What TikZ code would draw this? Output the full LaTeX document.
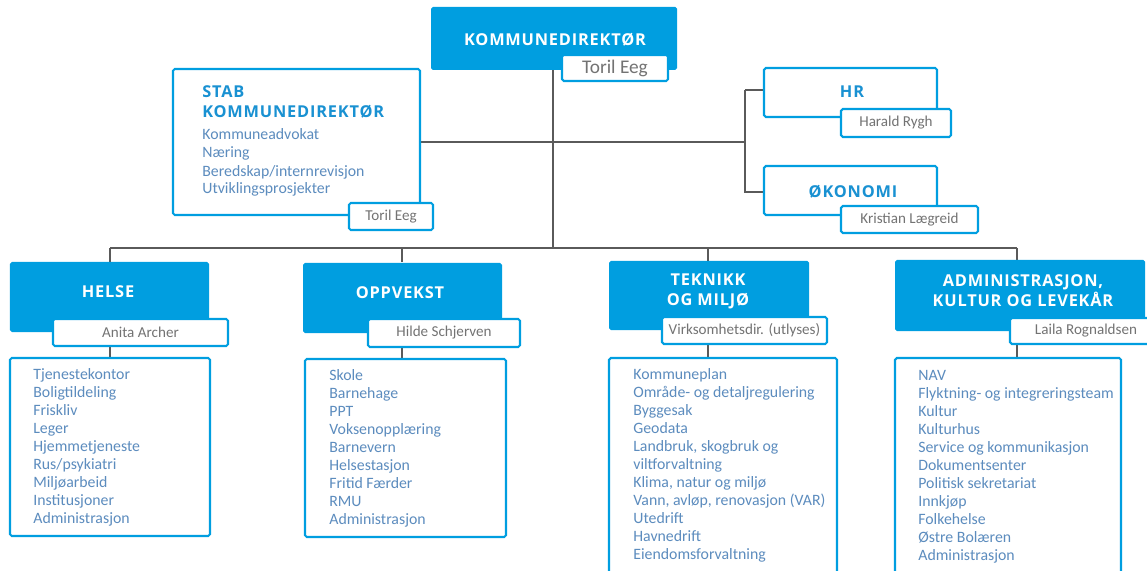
\documentclass[tikz,border=0pt]{standalone}
\usepackage{fontspec}
\usetikzlibrary{calc}
\setmainfont{Carlito}
\newfontfamily\headfont{Open Sans}[LetterSpace=5]
\definecolor{kblue}{RGB}{0,158,224}
\definecolor{kline}{RGB}{90,90,90}
\definecolor{ktext}{RGB}{92,140,190}
\definecolor{kgray}{RGB}{115,115,115}
\definecolor{ktitle}{RGB}{25,145,210}
\newcommand\bx[7]{%
  \pgfmathsetmacro\bxcx{(#3+#5)/2}\pgfmathsetmacro\bxcy{(#4+#6)/2}%
  \pgfmathsetmacro\bxww{(#5-#3)*0.02}\pgfmathsetmacro\bxhh{(#6-#4)*0.02}%
  \node[#1,minimum width=\bxww cm,minimum height=\bxhh cm] (#2) at (\bxcx,\bxcy) {#7};}
\newcommand\itemlist[4]{%
  \foreach \t [count=\i] in {#4} {\node[itemtxt] (#1-\i) at (#2,{#3+18*(\i-1)}) {\t};}}
\begin{document}
\begin{tikzpicture}[x=0.02cm,y=-0.02cm,
  bluebox/.style={fill=kblue,draw=none,inner sep=0,outer sep=0,rounded corners=1pt},
  outbox/.style={draw=kblue,line width=1.2pt,fill=white,inner sep=0,outer sep=0,rounded corners=1pt},
  namebox/.style={draw=kblue,line width=1.2pt,fill=white,inner sep=0,outer sep=0,rounded corners=1pt,text=kgray,font=\fontsize{8.6}{10}\selectfont},
  whitetitle/.style={text=white,font=\headfont\bfseries\fontsize{9.3}{11.5}\selectfont,align=center,inner sep=0},
  bluetitle/.style={text=ktitle,font=\headfont\bfseries\fontsize{9.3}{11.5}\selectfont,inner sep=0},
  itemtxt/.style={text=ktext,font=\fontsize{9}{10}\selectfont,anchor=base west,inner sep=0},
  conn/.style={draw=kline,line width=0.8pt}]
\useasboundingbox (0,0) rectangle (1147,571);
\clip (0,0) rectangle (1147,571);
% coordinates for connectors
\coordinate (d1) at (110,248);
\coordinate (d2) at (402,248);
\coordinate (d3) at (708,248);
\coordinate (d4) at (1017,248);
\coordinate (hrj) at (745,142);
\coordinate (kdx) at (553,70);
% connectors (drawn first, boxes on top)
\draw[conn] (kdx) -- (kdx |- d1);
\draw[conn] (d1) -- (d4);
\draw[conn] (420,142) coordinate (stabe) -- (hrj);
\draw[conn] (745,90) coordinate (hrw) -- (765,90) coordinate (hre);
\draw[conn] (hrw) -- (745,192) coordinate (okw) -- (765,192) coordinate (oke);
\foreach \d in {d1,d2,d3,d4} {\draw[conn] (\d) -- ($(\d)+(0,14)$);}
\draw[conn] (110,346) coordinate (l1a) -- (110,358) coordinate (l1b);
\draw[conn] (402,347) coordinate (l2a) -- (402,359) coordinate (l2b);
\draw[conn] (708,344) coordinate (l3a) -- (708,358) coordinate (l3b);
\draw[conn] (1017,344) coordinate (l4a) -- (1017,358) coordinate (l4b);
% KOMMUNEDIREKTOR
\bx{bluebox}{kd}{431}{7}{677}{70}{}
\node[whitetitle] (kdt) at (555,40) {KOMMUNEDIREKTØR};
\bx{namebox,font=\fontsize{11}{13}\selectfont}{kdn}{562}{55}{668}{81}{Toril Eeg}
% STAB
\bx{outbox}{stab}{173}{69}{420}{215}{}
\node[bluetitle,anchor=base west] (stabt1) at (202,98) {STAB};
\node[bluetitle,anchor=base west] (stabt2) at (202,118) {KOMMUNEDIREKTØR};
\itemlist{stabi}{202}{140}{Kommuneadvokat,Næring,Beredskap/internrevisjon,Utviklingsprosjekter}
\bx{namebox}{stabn}{349}{203}{433}{230}{Toril Eeg}
% HR
\bx{outbox}{hr}{764}{68}{937}{117}{}
\node[bluetitle] (hrt) at (852,92) {HR};
\bx{namebox}{hrn}{841}{109}{951}{137}{Harald Rygh}
% OKONOMI
\bx{outbox}{oko}{764}{166}{937}{215}{}
\node[bluetitle] (okot) at (853,192) {ØKONOMI};
\bx{namebox}{okon}{841}{206}{978}{233}{Kristian Lægreid}
% HELSE
\bx{bluebox}{helse}{10}{262}{209}{332}{}
\node[whitetitle] (helset) at (108,292) {HELSE};
\bx{namebox}{helsen}{53}{319}{228}{346}{Anita Archer}
\bx{outbox}{helsel}{10}{358}{210}{536}{}
\itemlist{hi}{33}{379}{Tjenestekontor,Boligtildeling,Friskliv,Leger,Hjemmetjeneste,Rus/psykiatri,Miljøarbeid,Institusjoner,Administrasjon}
% OPPVEKST
\bx{bluebox}{opp}{303}{263}{502}{333}{}
\node[whitetitle] (oppt) at (400,293) {OPPVEKST};
\bx{namebox}{oppn}{368}{319}{520}{347}{Hilde Schjerven}
\bx{outbox}{oppl}{305}{359}{506}{537}{}
\itemlist{oi}{329}{380}{Skole,Barnehage,PPT,Voksenopplæring,Barnevern,Helsestasjon,Fritid Færder,RMU,Administrasjon}
% TEKNIKK
\bx{bluebox}{tek}{609}{261}{809}{330}{}
\node[whitetitle] (tekt) at (708,291) {TEKNIKK\\OG MILJØ};
\bx{namebox}{tekn}{662}{317}{827}{344}{Virksomhetsdir. (utlyses)}
\bx{outbox}{tekl}{609}{358}{837}{590}{}
\itemlist{ti}{633}{379}{Kommuneplan,Område- og detaljregulering,Byggesak,Geodata,{Landbruk, skogbruk og},viltforvaltning,{Klima, natur og miljø},{Vann, avløp, renovasjon (VAR)},Utedrift,Havnedrift,Eiendomsforvaltning}
% ADMINISTRASJON
\bx{bluebox}{adm}{895}{260}{1145}{331}{}
\node[whitetitle] (admt) at (1023,291) {ADMINISTRASJON,\\KULTUR OG LEVEKÅR};
\bx{namebox}{admn}{1010}{318}{1162}{344}{Laila Rognaldsen}
\bx{outbox}{adml}{895}{358}{1121}{590}{}
\itemlist{ai}{918}{380}{NAV,Flyktning- og integreringsteam,Kultur,Kulturhus,Service og kommunikasjon,Dokumentsenter,Politisk sekretariat,Innkjøp,Folkehelse,Østre Bolæren,Administrasjon}
\end{tikzpicture}
\end{document}
